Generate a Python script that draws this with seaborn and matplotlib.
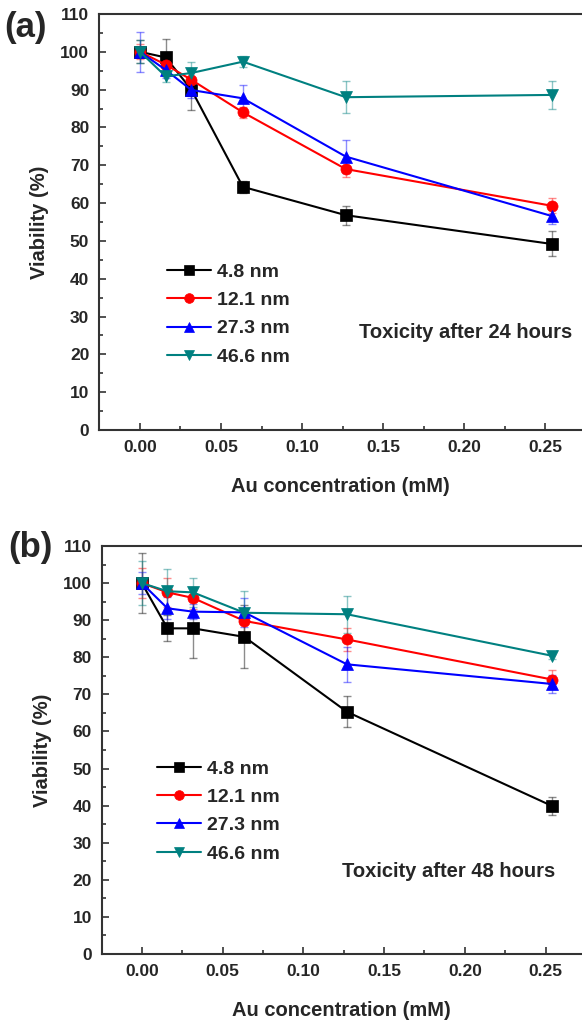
import numpy as np
import pandas as pd
import matplotlib
matplotlib.use("Agg")
import matplotlib.pyplot as plt
import seaborn as sns
from matplotlib.ticker import AutoMinorLocator

# ---------------- data ----------------
conc = [0.0, 0.0159, 0.0317, 0.0635, 0.127, 0.254]
sizes = ["4.8 nm", "12.1 nm", "27.3 nm", "46.6 nm"]

v24_48 = [100, 98.5, 90.0, 64.3, 56.8, 49.2]
v24_121 = [100, 96.6, 92.6, 84.0, 69.0, 59.3]
v24_273 = [100, 95.2, 89.9, 87.7, 72.3, 56.6]
v24_466 = [100, 93.5, 94.4, 97.4, 88.0, 88.6]
e24_48 = [3, 5, 5.5, 1.5, 2.5, 3.3]
e24_121 = [2, 2, 2, 1.5, 2, 2]
e24_273 = [5.3, 2, 2, 3.5, 4.3, 2]
e24_466 = [3, 1.5, 3, 1.5, 4.3, 3.8]

v48_48 = [100, 87.8, 87.8, 85.5, 65.3, 39.9]
v48_121 = [100, 97.5, 96.0, 89.8, 84.8, 74.0]
v48_273 = [100, 93.2, 92.3, 92.1, 78.1, 72.8]
v48_466 = [100, 97.8, 97.5, 92.0, 91.6, 80.4]
e48_48 = [8, 3.5, 8, 8.5, 4.2, 2.5]
e48_121 = [4, 4, 3, 3, 3, 2.5]
e48_273 = [3, 3, 2, 4, 4.7, 2.5]
e48_466 = [6, 6, 4, 6, 5, 1]

yticks = [0, 10, 20, 30, 40, 50, 60, 70, 80, 90, 100, 110]
xticks = [0.00, 0.05, 0.10, 0.15, 0.20, 0.25]

colors = ["#000000", "#ff0000", "#0000ff", "#008080"]
markers = ["s", "o", "^", "v"]

sns.set_style("ticks")
plt.rcParams["font.family"] = ["Liberation Sans", "DejaVu Sans"]
plt.rcParams["font.weight"] = "bold"
plt.rcParams["axes.labelweight"] = "bold"

W, H = 582, 1021
fig = plt.figure(figsize=(W / 100, H / 100), dpi=100)


def make_df(vals):
    rows = []
    for s, v in zip(sizes, vals):
        for c, y in zip(conc, v):
            rows.append({"conc": c, "viab": y, "size": s})
    return pd.DataFrame(rows)


def panel(rect, vals, errs, xlim, title_txt, txt_pos, leg_anchor, letter, letter_pos):
    ax = fig.add_axes(rect)
    df = make_df(vals)
    for v, e, col in zip(vals, errs, colors):
        ax.errorbar(conc, v, yerr=e, fmt="none", ecolor=col, alpha=0.45,
                    elinewidth=1.0, capsize=3, capthick=1.0, zorder=1)
    n_before = len(ax.lines)
    sns.lineplot(data=df, x="conc", y="viab", hue="size", style="size",
                 hue_order=sizes, style_order=sizes,
                 palette=colors, markers=markers, dashes=False,
                 markersize=8, markeredgewidth=0.5, linewidth=1.5,
                 ax=ax, zorder=3, legend=True)
    for ln in ax.lines[n_before:]:
        ln.set_markeredgecolor(ln.get_color())
    ax.set_xlim(*xlim)
    ax.set_ylim(0, 110)
    ax.set_xticks(xticks)
    ax.set_xticklabels([f"{t:.2f}" for t in xticks])
    ax.set_yticks(yticks)
    ax.xaxis.set_minor_locator(AutoMinorLocator(2))
    ax.yaxis.set_minor_locator(AutoMinorLocator(2))
    ax.tick_params(which="both", direction="in", top=False, right=False,
                   labelsize=12.5, width=1.2, color="#333333")
    ax.tick_params(which="major", length=5, pad=7)
    ax.tick_params(which="minor", length=3)
    for lab in ax.get_xticklabels() + ax.get_yticklabels():
        lab.set_fontweight("bold")
    ax.spines["right"].set_visible(False)
    for sp in ["left", "bottom", "top"]:
        ax.spines[sp].set_linewidth(1.5)
        ax.spines[sp].set_color("#333333")
    ax.set_xlabel("Au concentration (mM)", fontsize=14.5, fontweight="bold", labelpad=16)
    ax.set_ylabel("Viability (%)", fontsize=14.5, fontweight="bold", labelpad=8)
    h, l = ax.get_legend_handles_labels()
    leg = ax.legend(h, l, loc="upper left", bbox_to_anchor=leg_anchor, frameon=False,
                    prop={"size": 14, "weight": "bold"}, handlelength=2.3,
                    handletextpad=0.3, labelspacing=0.55, borderpad=0, borderaxespad=0)
    for lh in leg.legend_handles:
        lh.set_markersize(7)
    ax.text(txt_pos[0], txt_pos[1], title_txt, transform=ax.transAxes,
            ha="right", va="center", fontsize=14.5, fontweight="bold")
    fig.text(letter_pos[0], letter_pos[1], letter, fontsize=25, fontweight="bold",
             ha="left", va="center")
    return ax


panel([99 / W, 1 - 430 / H, (W - 99) / W, 416 / H],
      [v24_48, v24_121, v24_273, v24_466],
      [e24_48, e24_121, e24_273, e24_466],
      (-0.0253, 0.2728), "Toxicity after 24 hours", (0.979, 0.234),
      (0.140, 0.401), "(a)", (4 / W, 1 - 27 / H))

panel([101.7 / W, 1 - 954 / H, (W - 101.7) / W, 408 / H],
      [v48_48, v48_121, v48_273, v48_466],
      [e48_48, e48_121, e48_273, e48_466],
      (-0.0248, 0.2725), "Toxicity after 48 hours", (0.944, 0.202),
      (0.1145, 0.4755), "(b)", (8 / W, 1 - 548 / H))

fig.savefig("out.png", dpi=100)
